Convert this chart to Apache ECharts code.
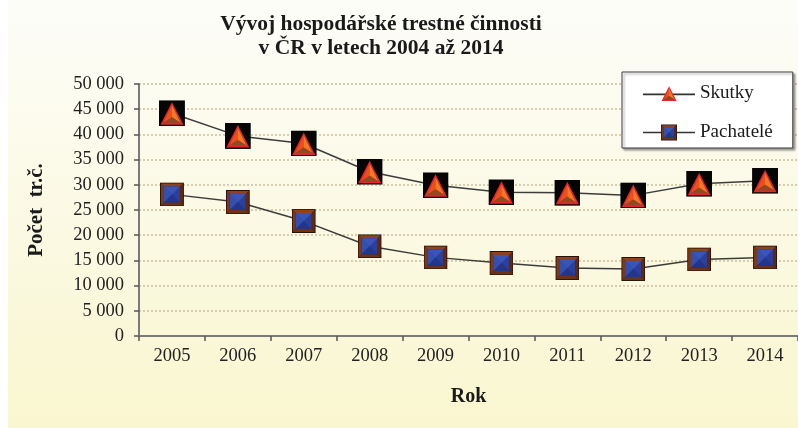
<!DOCTYPE html>
<html>
<head>
<meta charset="utf-8">
<script src="https://cdn.jsdelivr.net/npm/echarts@6/dist/echarts.min.js"></script>
<style>
  html, body { margin: 0; padding: 0; background: #fff; }
  #chart { width: 798px; height: 428px; }
</style>
</head>
<body>
<div id="chart"></div>
<script>
// data
const years = ['2005', '2006', '2007', '2008', '2009', '2010', '2011', '2012', '2013', '2014'];
const skutky = [44200, 39700, 38200, 32600, 29900, 28500, 28400, 27900, 30200, 30800];
const pachatele = [28100, 26600, 22800, 17800, 15600, 14500, 13500, 13300, 15200, 15600];

// marker pictures (svg), pyramid look like the original
const triShape = (dx, dy) => {
  const p = (x, y) => (x + dx) + ',' + (y + dy);
  return '<polygon points="' + p(13, 2) + ' ' + p(1.5, 24.5) + ' ' + p(24.5, 24.5) + '" fill="#e3262a"/>' +
    '<polygon points="' + p(13, 5) + ' ' + p(4.5, 22.5) + ' ' + p(13, 17) + '" fill="#e8501e"/>' +
    '<polygon points="' + p(13, 5) + ' ' + p(21.5, 22.5) + ' ' + p(13, 17) + '" fill="#f07a24"/>' +
    '<polygon points="' + p(4.5, 22.5) + ' ' + p(21.5, 22.5) + ' ' + p(13, 17) + '" fill="#8e4a22"/>';
};
const sqShape = (dx, dy) => {
  const p = (x, y) => (x + dx) + ',' + (y + dy);
  return '<rect x="' + dx + '" y="' + dy + '" width="24" height="24" fill="#2a1008"/>' +
    '<polygon points="' + p(1, 1) + ' ' + p(23, 1) + ' ' + p(20, 4) + ' ' + p(4, 4) + '" fill="#8a4422"/>' +
    '<polygon points="' + p(1, 1) + ' ' + p(4, 4) + ' ' + p(4, 20) + ' ' + p(1, 23) + '" fill="#7a3a1c"/>' +
    '<polygon points="' + p(23, 1) + ' ' + p(23, 23) + ' ' + p(20, 20) + ' ' + p(20, 4) + '" fill="#5e2a12"/>' +
    '<polygon points="' + p(1, 23) + ' ' + p(23, 23) + ' ' + p(20, 20) + ' ' + p(4, 20) + '" fill="#6e3216"/>' +
    '<rect x="' + (dx + 4) + '" y="' + (dy + 4) + '" width="16" height="16" fill="#2b3f9c"/>' +
    '<polygon points="' + p(4, 4) + ' ' + p(20, 4) + ' ' + p(12, 12) + '" fill="#3a55b8"/>' +
    '<polygon points="' + p(4, 4) + ' ' + p(4, 20) + ' ' + p(12, 12) + '" fill="#3450ae"/>' +
    '<polygon points="' + p(4, 20) + ' ' + p(20, 20) + ' ' + p(12, 12) + '" fill="#24368a"/>';
};
const svg = (w, h, body) => '<svg xmlns="http://www.w3.org/2000/svg" width="' + w + '" height="' + h +
  '" viewBox="0 0 ' + w + ' ' + h + '">' + body + '</svg>';
const img = (s) => 'image://data:image/svg+xml;charset=utf-8,' + encodeURIComponent(s);

const triMarker = svg(26, 26, '<rect width="26" height="26" fill="#050505"/>' + triShape(0, 0));
const sqMarker = svg(24, 24, sqShape(0, 0));
// legend icons: line with the mark in the middle (drawn 3x larger, shown at 52x17)
const legLine = (y) => '<line x1="0" y1="' + y + '" x2="156" y2="' + y + '" stroke="#333" stroke-width="5"/>';
const triLegend = svg(156, 51, legLine(28) + '<g transform="translate(53,0) scale(1.95)">' + triShape(0, 0) + '</g>');
const sqLegend = svg(156, 51, legLine(25.5) + '<g transform="translate(54,1.5) scale(2)">' + sqShape(0, 0) + '</g>');

const fmt = (v) => String(v).replace(/\B(?=(\d{3})+(?!\d))/g, ' ');
const serif = '"Liberation Serif", "DejaVu Serif", serif';

const chart = echarts.init(document.getElementById('chart'));
chart.setOption({
  backgroundColor: '#ffffff',
  animation: false,
  textStyle: { fontFamily: serif },
  graphic: [{
    type: 'rect',
    left: 8, top: 0, z: -10,
    shape: { width: 790, height: 428 },
    style: {
      fill: new echarts.graphic.LinearGradient(0, 0, 0, 1, [
        { offset: 0, color: '#fdfdf9' },
        { offset: 1, color: '#f9f6cf' }
      ])
    }
  }],
  title: {
    text: 'Vývoj hospodářské trestné činnosti\nv ČR v letech 2004 až 2014',
    left: 376, top: 7, textAlign: 'center',
    textStyle: { fontFamily: serif, fontSize: 21.5, fontWeight: 'bold', color: '#1a1a1a', lineHeight: 24 }
  },
  legend: {
    orient: 'vertical',
    left: 622, top: 72,
    padding: [12, 20, 6, 21],
    itemGap: 20,
    itemWidth: 52, itemHeight: 17,
    backgroundColor: '#ffffff',
    borderColor: '#3a3a3a', borderWidth: 1,
    shadowColor: 'rgba(0,0,0,0.35)', shadowOffsetX: 2, shadowOffsetY: 2, shadowBlur: 2,
    textStyle: { fontFamily: serif, fontSize: 19, color: '#1a1a1a' },
    data: [
      { name: 'Skutky', icon: img(triLegend) },
      { name: 'Pachatelé', icon: img(sqLegend) }
    ]
  },
  grid: { left: 139, right: -3, top: 84, bottom: 92 },
  xAxis: {
    type: 'category',
    data: years,
    name: 'Rok',
    nameLocation: 'middle',
    nameGap: 51,
    nameTextStyle: { fontFamily: serif, fontSize: 20, fontWeight: 'bold', color: '#1a1a1a' },
    axisLine: { lineStyle: { color: '#7a7a7a', width: 2 } },
    axisTick: { show: true, length: 5, lineStyle: { color: '#555', width: 1.5 } },
    axisLabel: { fontFamily: serif, fontSize: 18.5, color: '#222', margin: 11 }
  },
  yAxis: {
    type: 'value',
    min: 0, max: 50000, interval: 5000,
    name: 'Počet  tr.č.',
    nameLocation: 'middle',
    nameGap: 92,
    nameTextStyle: { fontFamily: serif, fontSize: 21, fontWeight: 'bold', color: '#1a1a1a' },
    axisLine: { show: true, lineStyle: { color: '#7a7a7a', width: 2 } },
    axisTick: { show: true, length: 5, lineStyle: { color: '#555', width: 1.5 } },
    axisLabel: { fontFamily: serif, fontSize: 18.5, color: '#222', margin: 15, formatter: fmt },
    splitLine: { lineStyle: { color: '#c9bf9e', width: 1.5, type: [2, 2] } }
  },
  series: [
    {
      name: 'Skutky',
      type: 'line',
      data: skutky,
      symbol: img(triMarker),
      symbolSize: 26,
      lineStyle: { color: '#3c3c3c', width: 1.5 },
      itemStyle: { color: '#3c3c3c' }
    },
    {
      name: 'Pachatelé',
      type: 'line',
      data: pachatele,
      symbol: img(sqMarker),
      symbolSize: 24,
      lineStyle: { color: '#3c3c3c', width: 1.5 },
      itemStyle: { color: '#3c3c3c' }
    }
  ]
});
</script>
</body>
</html>
